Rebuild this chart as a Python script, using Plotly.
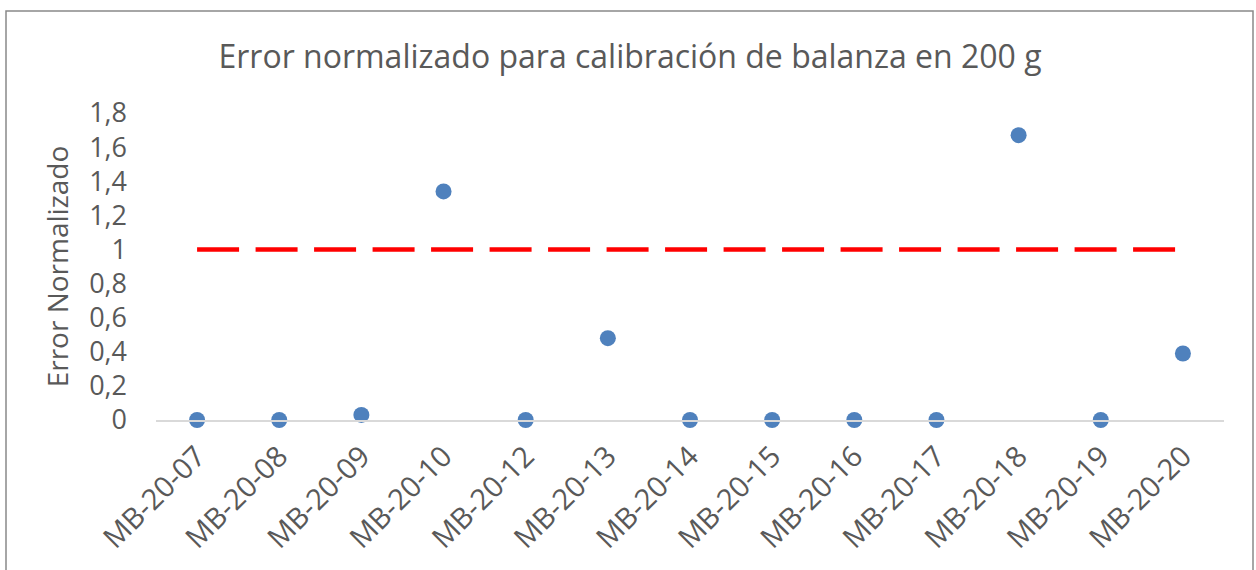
import plotly.graph_objects as go

categories = ["MB-20-07", "MB-20-08", "MB-20-09", "MB-20-10", "MB-20-12", "MB-20-13",
              "MB-20-14", "MB-20-15", "MB-20-16", "MB-20-17", "MB-20-18", "MB-20-19", "MB-20-20"]
error_normalizado = [0, 0, 0.03, 1.34, 0, 0.48, 0, 0, 0, 0, 1.67, 0, 0.39]
limite = [1] * len(categories)
y_tick_vals = [0, 0.2, 0.4, 0.6, 0.8, 1, 1.2, 1.4, 1.6, 1.8]
y_tick_text = ["0", "0,2", "0,4", "0,6", "0,8", "1", "1,2", "1,4", "1,6", "1,8"]

TXT = "#595959"
FONT = "Open Sans"

fig = go.Figure()
fig.add_trace(go.Scatter(
    x=categories, y=limite, mode="lines",
    line=dict(color="#ff0000", width=4.5, dash="42px,16.5px"),
    showlegend=False, hoverinfo="skip", cliponaxis=False,
))
fig.add_trace(go.Scatter(
    x=categories, y=error_normalizado, mode="markers",
    marker=dict(color="#4f81bd", size=16),
    showlegend=False, cliponaxis=False,
))

L, R, T, B = 156, 32, 113, 150
W, H = 1256, 570
pw, ph = W - L - R, H - T - B

def px(x):
    return (x - L) / pw

def py(y):
    return (H - B - y) / ph

fig.add_shape(type="rect", xref="paper", yref="paper",
              x0=px(6), x1=px(1253), y0=py(600), y1=py(11),
              line=dict(color="#898989", width=1.5), fillcolor="rgba(0,0,0,0)", layer="below")

fig.update_layout(
    width=W, height=H,
    margin=dict(l=L, r=R, t=T, b=B, autoexpand=False),
    paper_bgcolor="white", plot_bgcolor="white",
    title=dict(text="Error normalizado para calibración de balanza en 200 g",
               x=630 / W, xref="container", xanchor="center",
               y=1 - 57 / H, yref="container", yanchor="middle",
               font=dict(family=FONT, size=32, color=TXT)),
    font=dict(family=FONT, color=TXT),
)
fig.update_xaxes(
    type="category", range=[-0.5, len(categories) - 0.5],
    showline=True, linecolor="#d9d9d9", linewidth=1.5,
    showgrid=False, zeroline=False, ticks="",
    tickangle=-45, tickfont=dict(family=FONT, size=29, color=TXT),
    ticklabelstandoff=6,
)
fig.update_yaxes(
    range=[0, 1.8], tickvals=y_tick_vals, ticktext=y_tick_text,
    showgrid=False, zeroline=False, showline=False, ticks="",
    tickfont=dict(family=FONT, size=27, color=TXT),
    ticklabelstandoff=28,
    title=dict(text="Error Normalizado", font=dict(family=FONT, size=28, color=TXT), standoff=12),
)

fig.write_html("out.html", config={"displayModeBar": False},
               post_script="document.body.style.margin='0';")
